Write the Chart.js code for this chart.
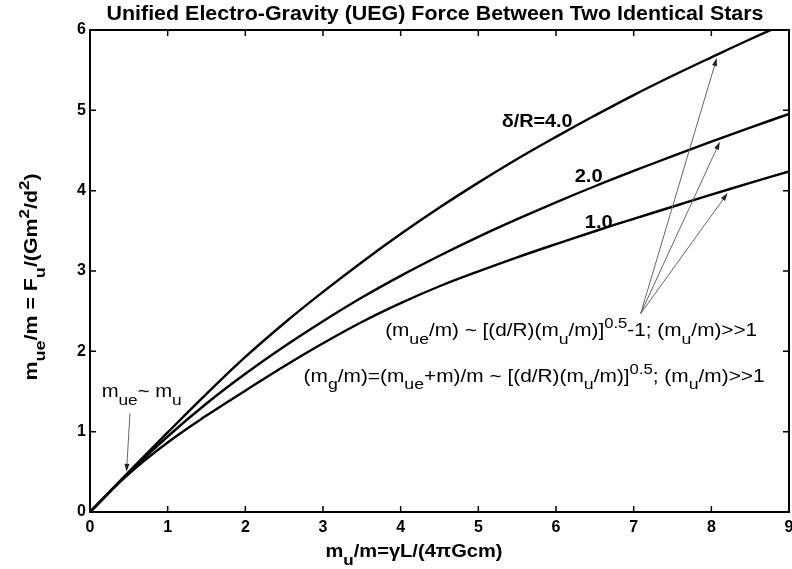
<!doctype html>
<html lang="en">
  <head>
    <script type="text/javascript" src="https://cdn.jsdelivr.net/npm/chart.js@4.4.1/dist/chart.umd.min.js"></script>
    <title>UEG Force Between Two Identical Stars</title>
    <style>
      body { margin: 0; background: #fff; }
    </style>
  </head>
  <body>
    <canvas id="uegChart" width="792" height="569"></canvas>
  <script>
    // m_u/m values and the three delta/R curves
    const muValues = [0, 0.5, 1, 1.5, 2, 2.5, 3, 3.5, 4, 4.5, 5, 5.5, 6, 6.5, 7, 7.5, 8, 8.5, 9];
    const ratio4 = [0, 0.50, 0.99, 1.47, 1.93, 2.35, 2.74, 3.11, 3.46, 3.79, 4.10, 4.395, 4.67, 4.935, 5.19, 5.43, 5.66, 5.885, 6.10];
    const ratio2 = [0, 0.49, 0.94, 1.35, 1.72, 2.06, 2.375, 2.67, 2.94, 3.19, 3.425, 3.645, 3.855, 4.055, 4.245, 4.43, 4.61, 4.785, 4.955];
    const ratio1 = [0, 0.475, 0.865, 1.20, 1.51, 1.815, 2.10, 2.365, 2.60, 2.81, 2.995, 3.17, 3.335, 3.495, 3.65, 3.80, 3.95, 4.097, 4.24];
    const xTicks = [0, 1, 2, 3, 4, 5, 6, 7, 8, 9];
    const yTicks = [0, 1, 2, 3, 4, 5, 6];

    // annotation anchors, in data units
    const curveLabels = [
        { text: 'δ/R=4.0', x: 5.30, y: 4.79, w: 71 },
        { text: '2.0', x: 6.24, y: 4.11, w: 28 },
        { text: '1.0', x: 6.37, y: 3.53, w: 28 }
    ];
    const arrowFrom = { x: 7.09, y: 2.47 };
    const arrowTips = [{ x: 8.07, y: 5.65 }, { x: 8.11, y: 4.61 }, { x: 8.21, y: 3.97 }];

    const FONT = 'Arial, "Liberation Sans", sans-serif';

    function parseRich(s) {
        const out = [];
        let buf = '';
        let i = 0;
        while (i < s.length) {
            const c = s[i];
            if ((c === '_' || c === '^') && s[i + 1] === '{') {
                if (buf) { out.push({ t: buf, m: 0 }); buf = ''; }
                const j = s.indexOf('}', i);
                out.push({ t: s.slice(i + 2, j), m: c === '_' ? -1 : 1 });
                i = j + 1;
            } else {
                buf += c;
                i++;
            }
        }
        if (buf) out.push({ t: buf, m: 0 });
        return out;
    }

    function drawRich(ctx, s, x, y, o) {
        const segs = parseRich(s);
        const font = (sz) => (o.bold ? 'bold ' : '') + sz + 'px ' + FONT;
        let w = 0;
        segs.forEach(g => {
            g.size = g.m < 0 ? o.size * 0.85 : g.m > 0 ? o.size * 0.8 : o.size;
            ctx.font = font(g.size);
            g.w = ctx.measureText(g.t).width;
            w += g.w;
        });
        const sx = o.width ? o.width / w : 1;
        ctx.save();
        ctx.translate(x, y);
        if (o.rot) ctx.rotate(o.rot);
        ctx.scale(sx, 1);
        ctx.fillStyle = o.color || '#000';
        ctx.textAlign = 'left';
        ctx.textBaseline = 'alphabetic';
        let cx = o.align === 'center' ? -w / 2 : 0;
        segs.forEach(g => {
            ctx.font = font(g.size);
            const dy = g.m < 0 ? o.size * 0.42 : g.m > 0 ? -o.size * 0.45 : 0;
            ctx.fillText(g.t, cx, dy);
            cx += g.w;
        });
        ctx.restore();
    }

    function drawArrow(ctx, x0, y0, x1, y1) {
        const a = Math.atan2(y1 - y0, x1 - x0);
        ctx.beginPath();
        ctx.moveTo(x0, y0);
        ctx.lineTo(x1 - 6 * Math.cos(a), y1 - 6 * Math.sin(a));
        ctx.stroke();
        ctx.beginPath();
        ctx.moveTo(x1, y1);
        ctx.lineTo(x1 - 8 * Math.cos(a) + 2.5 * Math.sin(a), y1 - 8 * Math.sin(a) - 2.5 * Math.cos(a));
        ctx.lineTo(x1 - 8 * Math.cos(a) - 2.5 * Math.sin(a), y1 - 8 * Math.sin(a) + 2.5 * Math.cos(a));
        ctx.closePath();
        ctx.fill();
    }

    const decorations = {
        id: 'decorations',
        afterDraw(chart) {
            const ctx = chart.ctx;
            const a = chart.chartArea;
            const xs = chart.scales.x;
            const ys = chart.scales.y;

            // frame with inward ticks on all four sides
            ctx.save();
            ctx.strokeStyle = '#000';
            ctx.lineWidth = 2;
            ctx.strokeRect(a.left, a.top, a.right - a.left, a.bottom - a.top);
            ctx.lineWidth = 1.5;
            ctx.beginPath();
            xTicks.forEach(v => {
                const px = xs.getPixelForValue(v);
                ctx.moveTo(px, a.bottom); ctx.lineTo(px, a.bottom - 6);
                ctx.moveTo(px, a.top); ctx.lineTo(px, a.top + 6);
            });
            yTicks.forEach(v => {
                const py = ys.getPixelForValue(v);
                ctx.moveTo(a.left, py); ctx.lineTo(a.left + 6, py);
                ctx.moveTo(a.right, py); ctx.lineTo(a.right - 6, py);
            });
            ctx.stroke();

            // titles
            drawRich(ctx, 'Unified Electro-Gravity (UEG) Force Between Two Identical Stars', 435, 20,
                { size: 20, bold: true, width: 657, align: 'center' });
            drawRich(ctx, 'm_{u}/m=γL/(4πGcm)', 414, 557, { size: 18, bold: true, width: 177, align: 'center' });
            drawRich(ctx, 'm_{ue}/m = F_{u}/(Gm^{2}/d^{2})', 37, 277,
                { size: 18, bold: true, width: 207, align: 'center', rot: -Math.PI / 2 });

            // curve labels
            curveLabels.forEach(l => {
                drawRich(ctx, l.text, xs.getPixelForValue(l.x), ys.getPixelForValue(l.y),
                    { size: 18, bold: true, width: l.w });
            });

            // equations
            drawRich(ctx, '(m_{ue}/m) ~ [(d/R)(m_{u}/m)]^{0.5}-1; (m_{u}/m)>>1',
                xs.getPixelForValue(3.80), ys.getPixelForValue(2.19), { size: 18, width: 372 });
            drawRich(ctx, '(m_{g}/m)=(m_{ue}+m)/m ~ [(d/R)(m_{u}/m)]^{0.5}; (m_{u}/m)>>1',
                xs.getPixelForValue(2.75), ys.getPixelForValue(1.62), { size: 18, width: 461 });
            drawRich(ctx, 'm_{ue}~ m_{u}',
                xs.getPixelForValue(0.15), ys.getPixelForValue(1.43), { size: 18, width: 80 });

            // thin arrows
            ctx.strokeStyle = '#666';
            ctx.fillStyle = '#222';
            ctx.lineWidth = 1;
            const fx = xs.getPixelForValue(arrowFrom.x);
            const fy = ys.getPixelForValue(arrowFrom.y);
            arrowTips.forEach(t => {
                drawArrow(ctx, fx, fy, xs.getPixelForValue(t.x), ys.getPixelForValue(t.y));
            });
            drawArrow(ctx, xs.getPixelForValue(0.515), ys.getPixelForValue(1.23),
                xs.getPixelForValue(0.47), ys.getPixelForValue(0.50));
            ctx.restore();
        }
    };

    function makeSet(label, values) {
        return {
            label: label,
            data: muValues.map((x, i) => ({ x: x, y: values[i] })),
            borderColor: '#000',
            borderWidth: 2.4,
            pointRadius: 0,
            fill: false,
            tension: 0.4
        };
    }

    function noPad(s) {
        s.paddingLeft = 0; s.paddingRight = 0; s.paddingTop = 0; s.paddingBottom = 0;
    }

    new Chart(document.getElementById('uegChart'), {
        type: 'line',
        data: {
            datasets: [
                makeSet('δ/R=4.0', ratio4),
                makeSet('δ/R=2.0', ratio2),
                makeSet('δ/R=1.0', ratio1)
            ]
        },
        options: {
            responsive: false,
            animation: false,
            devicePixelRatio: 1,
            layout: { padding: { top: 30, right: 3, left: 0, bottom: 0 } },
            plugins: { legend: { display: false }, tooltip: { enabled: false } },
            scales: {
                x: {
                    type: 'linear', min: 0, max: 9,
                    grid: { display: false, drawTicks: false },
                    border: { display: false },
                    afterBuildTicks: s => { s.ticks = xTicks.map(v => ({ value: v })); },
                    ticks: { color: '#000', padding: 6, maxRotation: 0, font: { family: FONT, size: 16, weight: 'bold' } },
                    afterFit: s => { s.height = 57; noPad(s); }
                },
                y: {
                    type: 'linear', min: 0, max: 6,
                    grid: { display: false, drawTicks: false },
                    border: { display: false },
                    afterBuildTicks: s => { s.ticks = yTicks.map(v => ({ value: v })); },
                    ticks: { color: '#000', padding: 4, font: { family: FONT, size: 16, weight: 'bold' } },
                    afterFit: s => { s.width = 90; noPad(s); }
                }
            }
        },
        plugins: [decorations]
    });
  </script>
  </body>
</html>
